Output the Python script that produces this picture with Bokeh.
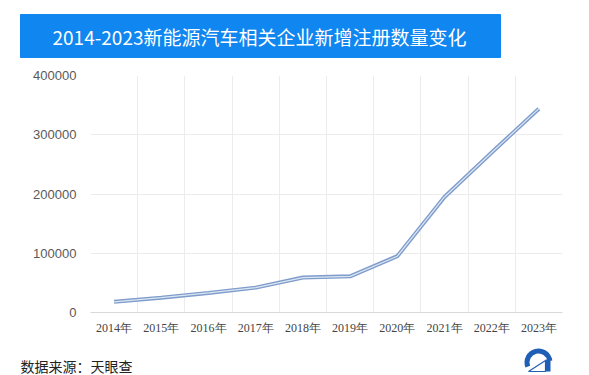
from bokeh.plotting import figure
from bokeh.layouts import column
from bokeh.models import Range1d, FixedTicker
from bokeh.core.properties import value
from bokeh.embed import file_html
from bokeh.resources import INLINE

title_text = "2014-2023新能源汽车相关企业新增注册数量变化"
years = ["2014年", "2015年", "2016年", "2017年", "2018年",
         "2019年", "2020年", "2021年", "2022年", "2023年"]
counts = [18000, 25000, 33000, 42000, 59000, 61000, 95000, 195000, 270000, 344000]
y_ticks = [0, 100000, 200000, 300000, 400000]
source_text = "数据来源：天眼查"

W = 589
H1, H2, H3 = 62, 275, 38


def deco_fig(h):
    f = figure(width=W, height=h, output_backend="svg", toolbar_location=None,
               x_range=Range1d(0, W), y_range=Range1d(0, h),
               min_border=0, min_border_left=0, min_border_right=0,
               min_border_top=0, min_border_bottom=0)
    f.axis.visible = False
    f.grid.visible = False
    f.outline_line_color = None
    return f


# ---- header ----
hdr = deco_fig(H1)
hdr.quad(left=[20], right=[500], bottom=[5], top=[48],
         fill_color="#0f86f0", line_color="#0f86f0")
hdr.text(x=[259], y=[26.5], text=[title_text], text_color="white",
         text_font=value("Noto Sans CJK SC"), text_font_size="19px",
         text_align="center", text_baseline="middle")

# ---- main chart ----
xs = [i + 0.5 for i in range(len(years))]
p = figure(width=W, height=H2, output_backend="svg", toolbar_location=None,
           x_range=Range1d(0, len(years)), y_range=Range1d(0, 400000),
           min_border_left=90, min_border_right=27,
           min_border_top=13, min_border_bottom=22)
p.outline_line_color = None
p.background_fill_color = "white"

p.line(xs, counts, line_color="#7f9ccb", line_width=4)
p.line(xs, counts, line_color="#dbe6f3", line_width=1.2)

p.xaxis.ticker = FixedTicker(ticks=xs)
p.xaxis.major_label_overrides = {x: y for x, y in zip(xs, years)}
p.xaxis.major_label_text_font = "Liberation Serif"
p.xaxis.major_label_text_font_size = "12px"
p.xaxis.major_label_text_color = "#444444"
p.xaxis.major_tick_line_color = None
p.xaxis.minor_tick_line_color = None
p.xaxis.axis_line_color = "#d9d9d9"
p.xaxis.major_label_standoff = 2

p.yaxis.ticker = FixedTicker(ticks=y_ticks)
p.yaxis.formatter.use_scientific = False
p.yaxis.major_label_text_font = "Liberation Sans"
p.yaxis.major_label_text_font_size = "13px"
p.yaxis.major_label_text_color = "#595959"
p.yaxis.major_tick_line_color = None
p.yaxis.minor_tick_line_color = None
p.yaxis.axis_line_color = None
p.yaxis.major_label_standoff = 8

p.xgrid.ticker = FixedTicker(ticks=list(range(len(years) + 1)))
p.xgrid.grid_line_color = "#ececec"
p.ygrid.grid_line_color = "#ececec"

# ---- footer ----
ftr = deco_fig(H3)
ftr.text(x=[20], y=[10], text=[source_text], text_color="#222222",
         text_font=value("Noto Sans CJK SC"), text_font_size="14px",
         text_align="left", text_baseline="middle")
# logo approximation
ftr.annular_wedge(x=[538], y=[13], inner_radius=9, outer_radius=14,
                  start_angle=0.15, end_angle=3.5,
                  fill_color="#1f5fb5", line_color=None)
ftr.patch(x=[528, 545, 545], y=[4, 15, 4], fill_color="white",
          line_color="#1f5fb5", line_width=1.2)
ftr.quad(left=[545], right=[550], bottom=[4], top=[16],
         fill_color="#1f5fb5", line_color=None)

layout = column(column(hdr), p, column(ftr), spacing=0)
open("out.html", "w").write(file_html(layout, INLINE))
